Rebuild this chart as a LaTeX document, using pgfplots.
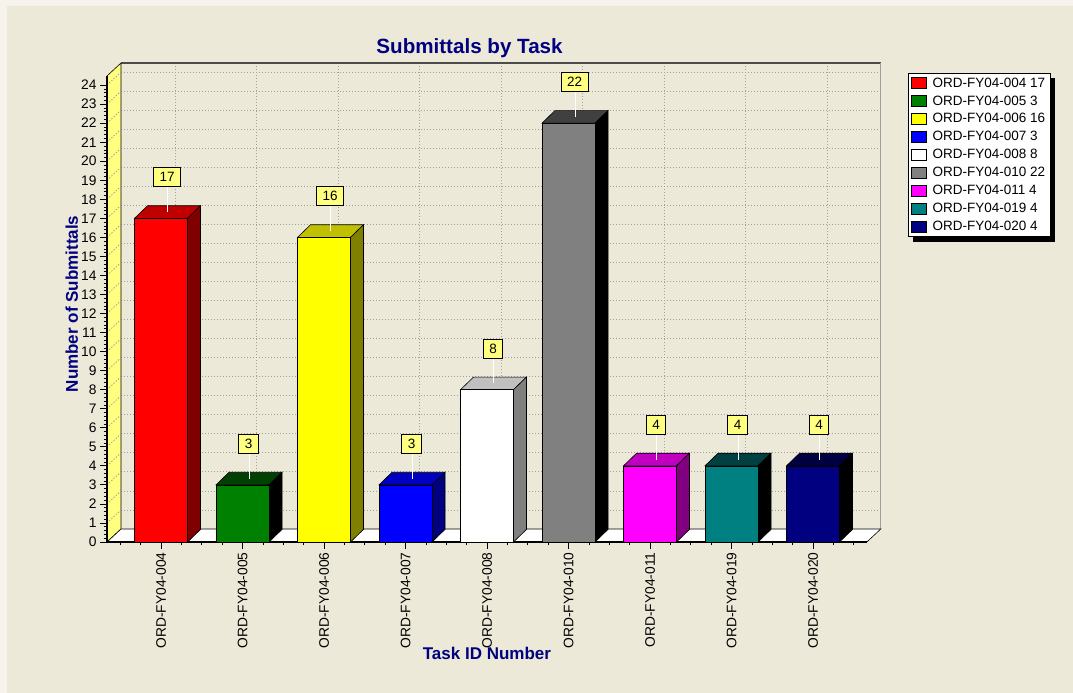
\documentclass[border=0pt]{standalone}
\usepackage{fontspec}
\setmainfont{Liberation Sans}
\usepackage{pgfplots}
\pgfplotsset{compat=1.18}
\pgfdeclarelayer{bottom}
\pgfdeclarelayer{shadow}
\pgfsetlayers{bottom,shadow,main}
\definecolor{bg}{HTML}{ECE9D8}
\definecolor{bglight}{HTML}{F5F3EC}
\definecolor{navyt}{HTML}{000080}
\definecolor{wally}{HTML}{FFFF80}
\definecolor{gridc}{HTML}{A0A0A0}
\definecolor{lblbox}{HTML}{FFFF80}
\definecolor{c1f}{HTML}{FF0000}\definecolor{c1t}{HTML}{C00000}\definecolor{c1s}{HTML}{800000}
\definecolor{c2f}{HTML}{008000}\definecolor{c2t}{HTML}{004000}\definecolor{c2s}{HTML}{000000}
\definecolor{c3f}{HTML}{FFFF00}\definecolor{c3t}{HTML}{C0C000}\definecolor{c3s}{HTML}{808000}
\definecolor{c4f}{HTML}{0000FF}\definecolor{c4t}{HTML}{0000C0}\definecolor{c4s}{HTML}{000080}
\definecolor{c5f}{HTML}{FFFFFF}\definecolor{c5t}{HTML}{C0C0C0}\definecolor{c5s}{HTML}{808080}
\definecolor{c6f}{HTML}{808080}\definecolor{c6t}{HTML}{404040}\definecolor{c6s}{HTML}{000000}
\definecolor{c7f}{HTML}{FF00FF}\definecolor{c7t}{HTML}{C000C0}\definecolor{c7s}{HTML}{800080}
\definecolor{c8f}{HTML}{008080}\definecolor{c8t}{HTML}{004040}\definecolor{c8s}{HTML}{000000}
\definecolor{c9f}{HTML}{000080}\definecolor{c9t}{HTML}{000040}\definecolor{c9s}{HTML}{000000}
\newcommand{\fs}[1]{\fontsize{#1}{#1}\selectfont}
\pgfplotsset{cube legend/.style={legend image code/.code={\filldraw[##1, draw=black, line width=0.6pt] (0pt,-5.5pt) rectangle (15pt,5.5pt);}}}
\tikzset{griddot/.style={gridc, line width=0.8pt, dash pattern=on 1.4pt off 1.6pt}}
\newcommand{\cubebar}[6]{%
  \filldraw[fill=#4, draw=black, line width=0.6pt]
    ([xshift=-26.5pt]axis cs:#1,#2) -- ++(13pt,12.6pt) -- ++(53pt,0pt)
    -- ([xshift=26.5pt]axis cs:#1,#2) -- cycle;
  \filldraw[fill=#5, draw=black, line width=0.6pt]
    ([xshift=26.5pt]axis cs:#1,0) -- ++(13pt,12.6pt)
    -- ([xshift=39.5pt,yshift=12.6pt]axis cs:#1,#2)
    -- ([xshift=26.5pt]axis cs:#1,#2) -- cycle;
  \addplot[ybar, bar width=0.65, bar shift=0pt, fill=#3, draw=black, line width=0.6pt,
    cube legend, nodes near coords,
    error bars/.cd, y dir=plus, y fixed=1.313, error mark=none,
    error bar style={white, line width=1pt, xshift=6.5pt, yshift=6.3pt}]
    coordinates {(#1,#2)};
  \addlegendentry{#6}
}
\begin{document}
\begin{tikzpicture}
\useasboundingbox (0,0) rectangle (1073pt,693pt);
\begin{pgfonlayer}{bottom}
\fill[bglight] (0,0) rectangle (1073pt,693pt);
\fill[bg] (7pt,0pt) rectangle (1073pt,687pt);
\end{pgfonlayer}
\begin{axis}[
  scale only axis, width=773.8pt, height=479pt,
  at={(107pt,151pt)}, anchor=south west,
  xmin=-0.663, xmax=8.832, ymin=0, ymax=25.16,
  clip=false,
  axis line style={draw=none},
  /pgf/number format/assume math mode=true,
  xtick={0,...,8},
  xticklabels={ORD-FY04-004,ORD-FY04-005,ORD-FY04-006,ORD-FY04-007,ORD-FY04-008,ORD-FY04-010,ORD-FY04-011,ORD-FY04-019,ORD-FY04-020},
  minor xtick={-0.5,-0.25,...,8.5},
  ytick={0,1,...,24},
  minor y tick num=4,
  xtick pos=left, ytick pos=left,
  tick align=outside,
  major tick length=7pt, minor tick length=3.5pt,
  every tick/.style={black, line width=0.8pt},
  every minor tick/.style={black, line width=0.6pt},
  tick label style={font=\fs{13.8}, text=black},
  xticklabel style={rotate=90, anchor=east},
  title={Submittals by Task},
  title style={at={(axis description cs:0.4685,1.0063)}, anchor=base, font=\bfseries\fs{20.6}, text=navyt},
  xlabel={Task ID Number},
  ylabel={Number of Submittals},
  every axis x label/.style={at={(axis description cs:0.491,-0.2443)}, anchor=base, font=\bfseries\fs{17}, text=navyt},
  every axis y label/.style={at={(axis description cs:-0.0375,0.497)}, rotate=90, anchor=base, font=\bfseries\fs{17}, text=navyt},
  every node near coord/.append style={font=\fs{13.5}, text=black, fill=lblbox, draw=black, line width=0.6pt, inner xsep=6pt, inner ysep=0pt, minimum height=19pt, anchor=south, xshift=6pt, yshift=31.3pt},
  legend style={name=lgd, at={(1,1)}, anchor=north west, xshift=27pt, yshift=-10pt,
    draw=black, fill=white, font=\fs{13.5}, inner xsep=3pt, inner ysep=2.5pt, row sep=3pt,
    /tikz/every odd column/.append style={column sep=4pt}},
  legend cell align=left,
]
% back wall grid
\pgfplotsinvokeforeach{1,...,24}{
  \draw[griddot, xshift=14pt, yshift=13pt] (axis cs:-0.663,#1) -- (axis cs:8.66,#1);
}
\pgfplotsinvokeforeach{0,...,8}{
  \draw[griddot, xshift=14pt, yshift=13pt] (axis cs:#1,0) -- (axis cs:#1,24.48);
}
\draw[black!70, line width=2pt] (axis cs:-0.491,25.16) -- (axis cs:8.832,25.16);
\draw[gridc, line width=1pt] (axis cs:8.832,0.683) -- (axis cs:8.832,25.16);
% left wall
\filldraw[fill=wally, draw=black, line width=0.6pt] (axis cs:-0.663,0) -- (axis cs:-0.491,0.683) -- (axis cs:-0.491,25.16) -- (axis cs:-0.663,24.48) -- cycle;
\pgfplotsinvokeforeach{1,...,24}{
  \draw[griddot] (axis cs:-0.663,#1) -- ++(14pt,13pt);
}
% floor
\filldraw[fill=white, draw=black, line width=0.6pt] (axis cs:-0.663,0) -- (axis cs:8.66,0) -- (axis cs:8.832,0.683) -- (axis cs:-0.491,0.683) -- cycle;
\draw[black, line width=1.6pt] (axis cs:-0.663,24.48) -- (axis cs:-0.663,0) -- (axis cs:8.66,0);
% bars
\cubebar{0}{17}{c1f}{c1t}{c1s}{ORD-FY04-004 17}
\cubebar{1}{3}{c2f}{c2t}{c2s}{ORD-FY04-005 3}
\cubebar{2}{16}{c3f}{c3t}{c3s}{ORD-FY04-006 16}
\cubebar{3}{3}{c4f}{c4t}{c4s}{ORD-FY04-007 3}
\cubebar{4}{8}{c5f}{c5t}{c5s}{ORD-FY04-008 8}
\cubebar{5}{22}{c6f}{c6t}{c6s}{ORD-FY04-010 22}
\cubebar{6}{4}{c7f}{c7t}{c7s}{ORD-FY04-011 4}
\cubebar{7}{4}{c8f}{c8t}{c8s}{ORD-FY04-019 4}
\cubebar{8}{4}{c9f}{c9t}{c9s}{ORD-FY04-020 4}
\end{axis}
\begin{pgfonlayer}{shadow}
\fill[black] ([shift={(5pt,-5pt)}]lgd.south west) rectangle ([shift={(5pt,-5pt)}]lgd.north east);
\end{pgfonlayer}
\end{tikzpicture}
\end{document}
